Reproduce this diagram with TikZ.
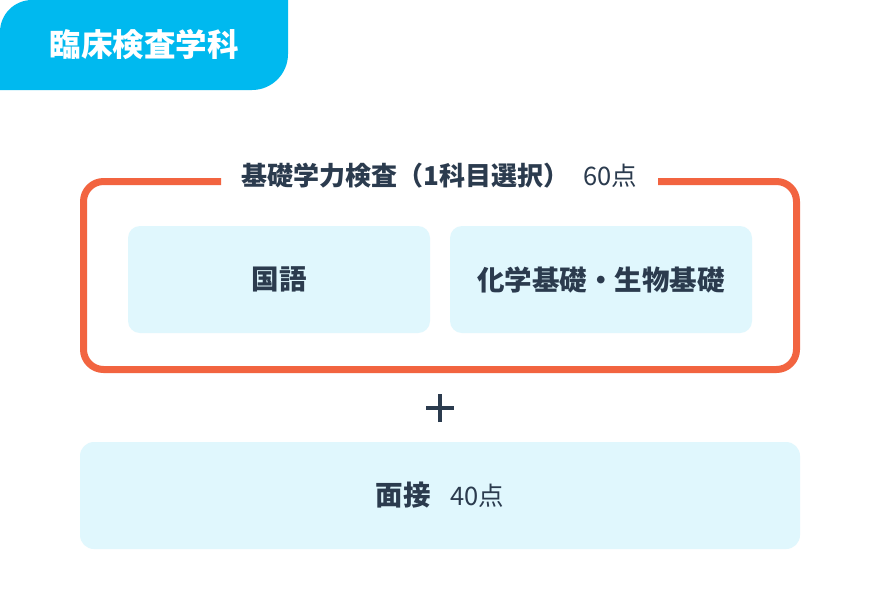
\documentclass[tikz,border=0pt]{standalone}
\usepackage{fontspec}
\setmainfont{Noto Sans CJK JP}
\newfontfamily\jpfont{Noto Sans CJK JP}
\definecolor{tabblue}{HTML}{00B9EF}
\definecolor{frameorange}{HTML}{F26440}
\definecolor{boxblue}{HTML}{E0F7FD}
\definecolor{navy}{HTML}{2B3B4E}
\tikzset{
  subjectbox/.style={fill=boxblue, rounded corners=12pt, text=navy, minimum height=107pt, inner sep=0pt, font=\jpfont\bfseries\fontsize{27.5}{32}\selectfont},
  pointtext/.style={font=\jpfont\fontsize{25.5}{30}\selectfont}
}
\begin{document}
\begin{tikzpicture}[x=1pt, y=-1pt, line join=round, >=stealth]
  % 画像の大きさ
  \useasboundingbox[fill=white] (0,0) rectangle (880,614);
  % 左上のタブ
  \fill[tabblue] (0,90) -- (0,32) arc[start angle=180, end angle=270, radius=32] -- (288,0) -- (288,54) arc[start angle=0, end angle=90, radius=36] -- cycle;
  \node[text=white, font=\jpfont\bfseries\fontsize{31.5}{36}\selectfont] (dept) at (144,45) {臨床検査学科};
  % オレンジの枠（上辺は見出しの所で切れる）
  \coordinate (gapL) at (221,181.5);
  \coordinate (gapR) at (658,181.5);
  \draw[frameorange, line width=7pt, rounded corners=20pt] (gapL) -- (83.5,181.5) -- (83.5,369.5) -- (796.5,369.5) -- (796.5,181.5) -- (gapR);
  % 見出し
  \node[text=navy, inner sep=0pt] (head) at (439,176) {{\jpfont\bfseries\fontsize{26}{30}\selectfont 基礎学力検査（1科目選択）}\hspace{14pt}{\fontsize{25.5}{30}\selectfont 60点}};
  % 選択科目
  \node[subjectbox, minimum width=302pt] (kokugo) at (279,279.5) {国語};
  \node[subjectbox, minimum width=302pt] (rika) at (601,279.5) {化学基礎・生物基礎};
  % プラス記号
  \coordinate (plus) at (440,408);
  \draw[navy, line width=4pt] ([xshift=-14pt]plus) -- ([xshift=14pt]plus);
  \draw[navy, line width=4pt] ([yshift=-14pt]plus) -- ([yshift=14pt]plus);
  % 面接
  \node[subjectbox, rounded corners=14pt, minimum width=720pt] (mensetsu) at (440,495.5) {面接\hspace{20pt}{\mdseries\fontsize{25.5}{30}\selectfont 40点}};
\end{tikzpicture}
\end{document}
